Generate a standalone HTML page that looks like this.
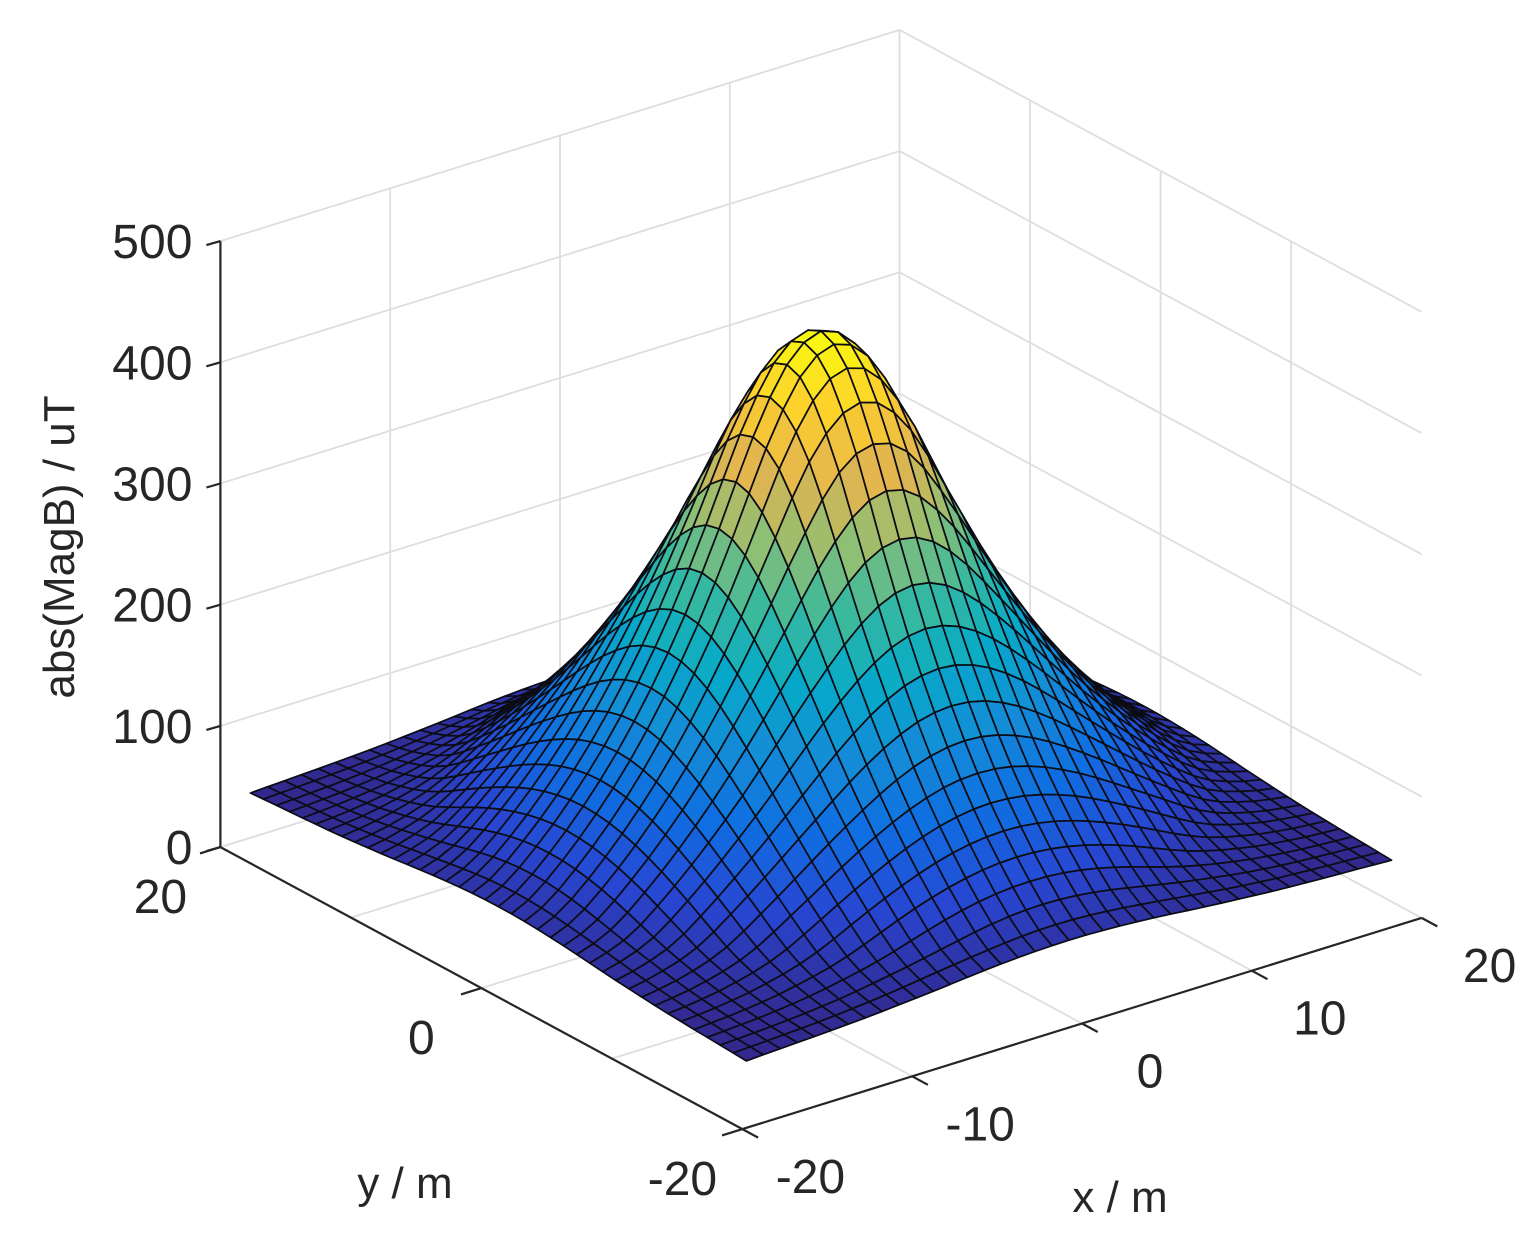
<!DOCTYPE html>
<html><head><meta charset="utf-8"><style>
html,body{margin:0;padding:0;background:#fff;}
svg{display:block;}
text{font-family:"Liberation Sans",Arial,sans-serif;fill:#262626;}
</style></head><body>
<svg id="chart" width="1535" height="1253" viewBox="0 0 1535 1253" xmlns="http://www.w3.org/2000/svg">
<g id="walls"></g>
<g id="surf"></g>
<g id="axes"></g>
<text x="0" y="0" font-size="44" text-anchor="middle" transform="translate(74,547) rotate(-90)">abs(MagB) / uT</text>
<text x="1120" y="1212" font-size="44" text-anchor="middle">x / m</text>
<text x="405" y="1198" font-size="44" text-anchor="middle">y / m</text>
</svg>
<script>
// radial profile of |B| (uT) vs distance from centre (m)
const profileR = [0, 2, 4, 6, 8, 10, 12, 14, 16, 18, 20, 22, 24, 26, 28];
const profileZ = [455, 436, 385, 318, 256, 204, 160, 124, 94, 70, 58, 52, 49, 47, 45];
const gridX = [-19,-18,-17,-16,-15,-14,-13,-12,-11,-10,-9,-8,-7,-6,-5,-4,-3,-2,-1,0,1,2,3,4,5,6,7,8,9,10,11,12,13,14,15,16,17,18,19];
const gridY = gridX.slice();
const xTicks = [-20, -10, 0, 10, 20];
const yTicks = [-20, 0, 20];
const zTicks = [0, 100, 200, 300, 400, 500];
const xTickLabels = ["-20", "-10", "0", "10", "20"];
const yTickLabels = ["-20", "0", "20"];
const zTickLabels = ["0", "100", "200", "300", "400", "500"];

const NS = "http://www.w3.org/2000/svg";
function P(x, y, z) {
  return [821 + 16.98 * x - 13.05 * y, 882.5 - 5.28 * x - 7.05 * y - 1.212 * z];
}
function depth(x, y, z) { return 0.609 * x + 0.793 * y - 0.04 * z; }
function profile(r) {
  const n = profileR.length;
  if (r >= profileR[n - 1]) return profileZ[n - 1];
  let i = 0;
  while (profileR[i + 1] < r) i++;
  const h = profileR[i + 1] - profileR[i], t = (r - profileR[i]) / h;
  const m = k => k <= 0 ? 0 : (k >= n - 1 ? (profileZ[n-1]-profileZ[n-2])/h : (profileZ[k+1]-profileZ[k-1])/(2*h));
  const p0 = profileZ[i], p1 = profileZ[i + 1], m0 = m(i) * h, m1 = m(i + 1) * h;
  const t2 = t * t, t3 = t2 * t;
  return (2*t3-3*t2+1)*p0 + (t3-2*t2+t)*m0 + (-2*t3+3*t2)*p1 + (t3-t2)*m1;
}
const parula = [[50,40,140],[40,70,210],[15,110,225],[20,140,215],[6,170,200],[56,185,158],[146,191,115],[225,180,80],[252,206,46],[249,251,14]];
function cmap(t) {
  t = Math.max(0, Math.min(1, t)) * (parula.length - 1);
  const i = Math.min(parula.length - 2, Math.floor(t)), f = t - i;
  const a = parula[i], b = parula[i + 1];
  return "rgb(" + [0,1,2].map(k => Math.round(a[k] + (b[k] - a[k]) * f)).join(",") + ")";
}
function line(g, p, q, stroke, w, name) {
  const l = document.createElementNS(NS, "line");
  l.setAttribute("x1", p[0].toFixed(1)); l.setAttribute("y1", p[1].toFixed(1));
  l.setAttribute("x2", q[0].toFixed(1)); l.setAttribute("y2", q[1].toFixed(1));
  l.setAttribute("stroke", stroke); l.setAttribute("stroke-width", w);
  
  
  g.appendChild(l);
}
function text(g, x, y, s, anchor, name) {
  const t = document.createElementNS(NS, "text");
  t.setAttribute("x", x); t.setAttribute("y", y);
  t.setAttribute("font-size", "48"); t.setAttribute("text-anchor", anchor);
  t.textContent = s;
  
  
  g.appendChild(t);
}
const walls = document.getElementById("walls");
const axes = document.getElementById("axes");
const gc = "#dedede";
zTicks.forEach(z => {
  line(walls, P(-20, 20, z), P(20, 20, z), gc, 1.8, "grid-z-left-wall");
  line(walls, P(20, 20, z), P(20, -20, z), gc, 1.8, "grid-z-right-wall");
});
xTicks.forEach(x => {
  line(walls, P(x, 20, 0), P(x, 20, 500), gc, 1.8, "grid-x-wall");
  line(walls, P(x, -20, 0), P(x, 20, 0), gc, 1.8, "grid-x-floor");
});
[-10, 0, 10, 20].forEach(y => {
  line(walls, P(20, y, 0), P(20, y, 500), gc, 1.8, "grid-y-wall");
  line(walls, P(-20, y, 0), P(20, y, 0), gc, 1.8, "grid-y-floor");
});
const Z = gridY.map(y => gridX.map(x => profile(Math.sqrt(x * x + y * y))));
let zmin = Infinity, zmax = -Infinity;
Z.forEach(r => r.forEach(v => { zmin = Math.min(zmin, v); zmax = Math.max(zmax, v); }));
const faces = [];
for (let j = 0; j < gridY.length - 1; j++) for (let i = 0; i < gridX.length - 1; i++) {
  const pts = [[i, j], [i + 1, j], [i + 1, j + 1], [i, j + 1]];
  let d = 0, zs = 0;
  const pp = pts.map(([a, b]) => { const z = Z[b][a]; d += depth(gridX[a], gridY[b], z); zs += z; return P(gridX[a], gridY[b], z); });
  faces.push({ pp, d: d / 4, z: zs / 4 });
}
faces.sort((a, b) => b.d - a.d);
const surf = document.getElementById("surf");
faces.forEach(f => {
  const poly = document.createElementNS(NS, "polygon");
  poly.setAttribute("points", f.pp.map(p => p[0].toFixed(1) + "," + p[1].toFixed(1)).join(" "));
  poly.setAttribute("fill", cmap((f.z - zmin) / (zmax - zmin)));
  poly.setAttribute("stroke", "#0c0c14");
  poly.setAttribute("stroke-width", "1.7");
  poly.setAttribute("stroke-linejoin", "round");
  
  
  surf.appendChild(poly);
});
const ac = "#262626";
line(axes, P(-20, 20, 0), P(-20, 20, 500), ac, 2.2, "z-axis-line");
line(axes, P(-20, 20, 0), P(-20, -20, 0), ac, 2.2, "y-axis-line");
line(axes, P(-20, -20, 0), P(20, -20, 0), ac, 2.2, "x-axis-line");
zTicks.forEach((z, k) => {
  const p = P(-20, 20, z);
  line(axes, p, [p[0] - 14, p[1] + 4], ac, 2.2, "z-tick");
  text(axes, p[0] - 28, p[1] + 17, zTickLabels[k], "end", "z-tick-label");
});
xTicks.forEach((x, k) => {
  const p = P(x, -20, 0), q = P(x, -21.2, 0);
  line(axes, p, q, ac, 2.2, "x-tick");
  text(axes, p[0] + 68, p[1] + 64, xTickLabels[k], "middle", "x-tick-label");
});
yTicks.forEach((y, k) => {
  const p = P(-20, y, 0), q = P(-21.2, y, 0);
  line(axes, p, q, ac, 2.2, "y-tick");
  text(axes, p[0] - 60, p[1] + 66, yTickLabels[k], "middle", "y-tick-label");
});
</script>
</body></html>
